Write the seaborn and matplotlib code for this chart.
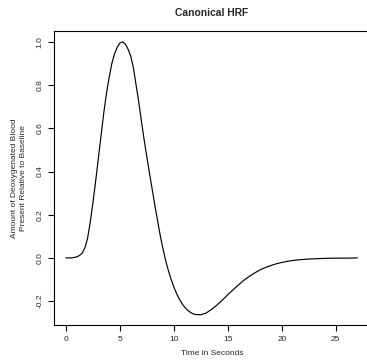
import matplotlib
matplotlib.use("Agg")
import matplotlib.pyplot as plt
import numpy as np
import pandas as pd
import seaborn as sns

# values
time_s = [0.0, 0.5, 0.75, 1.0, 1.25, 1.5, 1.75, 2.0, 2.25, 2.5, 2.75, 3.0, 3.25,
          3.5, 3.75, 4.0, 4.25, 4.5, 4.75, 5.0, 5.25, 5.5, 5.75, 6.0, 6.25, 6.5,
          6.75, 7.0, 7.25, 7.5, 7.75, 8.0, 8.25, 8.5, 8.75, 9.0, 9.25, 9.5, 9.75,
          10.0, 10.25, 10.5, 10.75, 11.0, 11.25, 11.5, 11.75, 12.0, 12.5, 13.0,
          13.5, 14.0, 14.5, 15.0, 15.5, 16.0, 16.5, 17.0, 17.5, 18.0, 18.5, 19.0,
          19.5, 20.0, 20.5, 21.0, 21.5, 22.0, 22.5, 23.0, 24.0, 25.0, 26.0, 27.0]
hrf = [0.0, 0.0, 0.002, 0.005, 0.011, 0.022, 0.046, 0.09, 0.165, 0.255, 0.355,
       0.46, 0.565, 0.67, 0.76, 0.835, 0.90, 0.945, 0.975, 0.995, 1.0, 0.99,
       0.967, 0.935, 0.88, 0.80, 0.72, 0.63, 0.545, 0.465, 0.39, 0.315, 0.24,
       0.17, 0.10, 0.04, -0.015, -0.06, -0.10, -0.135, -0.165, -0.19, -0.211,
       -0.228, -0.241, -0.251, -0.258, -0.262, -0.263, -0.255, -0.238, -0.218,
       -0.195, -0.17, -0.147, -0.124, -0.103, -0.085, -0.069, -0.055, -0.044,
       -0.035, -0.027, -0.021, -0.016, -0.012, -0.009, -0.007, -0.005, -0.004,
       -0.002, -0.001, -0.001, 0.0]
x_ticks = [0, 5, 10, 15, 20, 25]
y_ticks = [-0.2, 0.0, 0.2, 0.4, 0.6, 0.8, 1.0]

df = pd.DataFrame({"t": time_s, "hrf": hrf})

sns.set_style("ticks")
plt.rcParams["font.family"] = ["Liberation Sans", "DejaVu Sans"]

fig = plt.figure(figsize=(3.67, 3.63), dpi=100)
ax = fig.add_axes([54.3 / 367, 38 / 363, 314.7 / 367, 294 / 363])

sns.lineplot(data=df, x="t", y="hrf", color="black", linewidth=0.85, ax=ax)

ax.set_xlim(-1.08, 28.08)
ax.set_ylim(-0.3105, 1.0505)
ax.set_xticks(x_ticks)
ax.set_yticks(y_ticks)
ax.set_xticklabels([str(v) for v in x_ticks])
ax.set_yticklabels([f"{v:.1f}" for v in y_ticks], rotation=90, va="center")
for s in ax.spines.values():
    s.set_visible(True)
    s.set_color("black")
    s.set_linewidth(0.8)
ax.tick_params(direction="out", length=4, width=0.8, color="black",
               labelsize=6, pad=4)

ax.set_title("Canonical HRF", fontsize=7.4, fontweight="bold", pad=10.5)
ax.set_xlabel("Time in Seconds", fontsize=6)
ax.set_ylabel("Amount of Deoxygenated Blood\nPresent Relative to Baseline",
              fontsize=6, linespacing=1.35)
ax.xaxis.set_label_coords(0.501, -0.085)
ax.yaxis.set_label_coords(-0.086, 0.5)

fig.savefig("out.png", dpi=100)
